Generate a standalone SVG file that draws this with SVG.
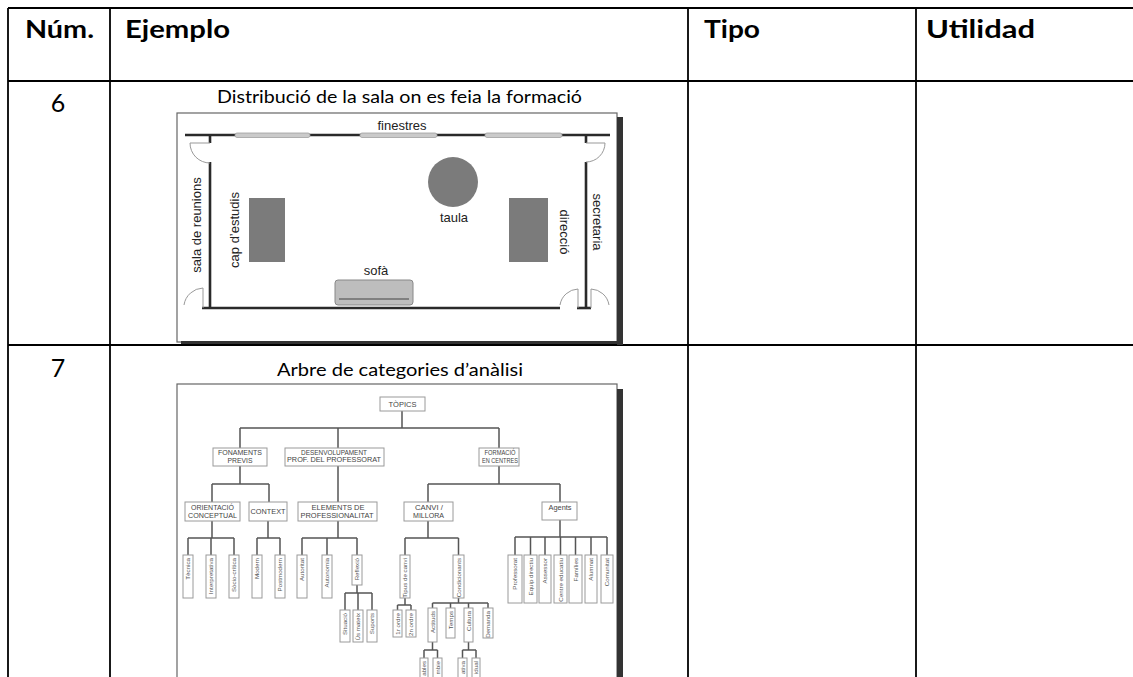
<svg xmlns="http://www.w3.org/2000/svg" width="1133" height="677" viewBox="0 0 1133 677">
<style>
.tl{stroke:#000;stroke-width:1.8;fill:none}
.hd{font-family:"Lato","Liberation Sans",sans-serif;font-weight:bold;font-size:25px;fill:#000}
.num{font-family:"Lato","Liberation Sans",sans-serif;font-size:25px;fill:#000}
.cap{font-family:"Lato","Liberation Sans",sans-serif;font-size:17px;fill:#000}
.pl{font-family:"Liberation Sans","DejaVu Sans",sans-serif;font-size:13px;fill:#222}
.wall{stroke:#2a2a2a;stroke-width:2.6;fill:none}
.door{stroke:#999;stroke-width:1;fill:none}
.win{fill:#cacaca;stroke:#a0a0a0;stroke-width:0.8}
.furn{fill:#7b7b7b}
.frame{fill:#fff;stroke:#666;stroke-width:1.2}
.shadow{fill:#333}
.bx{fill:#fff;stroke:#9a9a9a;stroke-width:1}
.cn{stroke:#555;stroke-width:1.5;fill:none}
.nt{font-family:"Liberation Sans",sans-serif;font-size:7px;fill:#444;text-anchor:middle}
.lt{font-family:"Liberation Sans",sans-serif;font-size:6.2px;fill:#555;text-anchor:end}
</style>

<g id="table">
<line class="tl" x1="8" y1="8" x2="1133" y2="8"/>
<line class="tl" x1="8" y1="81" x2="1133" y2="81"/>
<line class="tl" x1="8" y1="345" x2="1133" y2="345"/>
<line class="tl" x1="8" y1="8" x2="8" y2="677"/>
<line class="tl" x1="110" y1="8" x2="110" y2="677"/>
<line class="tl" x1="688" y1="8" x2="688" y2="677"/>
<line class="tl" x1="916" y1="8" x2="916" y2="677"/>
<text class="hd" x="25" y="38" textLength="69" lengthAdjust="spacingAndGlyphs">Núm.</text>
<text class="hd" x="125" y="38" textLength="105" lengthAdjust="spacingAndGlyphs">Ejemplo</text>
<text class="hd" x="704" y="38" textLength="56" lengthAdjust="spacingAndGlyphs">Tipo</text>
<text class="hd" x="926" y="38" textLength="109" lengthAdjust="spacingAndGlyphs">Utilidad</text>
<text class="num" x="58" y="112" text-anchor="middle">6</text>
<text class="num" x="58" y="377" text-anchor="middle">7</text>
<text class="cap" x="217" y="103" textLength="365" lengthAdjust="spacingAndGlyphs">Distribució de la sala on es feia la formació</text>
<text class="cap" x="277" y="376" textLength="246" lengthAdjust="spacingAndGlyphs">Arbre de categories d’anàlisi</text>
</g>

<g id="floorplan">
<rect class="frame" x="177" y="113" width="440" height="229"/>
<rect class="shadow" x="617" y="117" width="6" height="228"/>
<rect class="shadow" x="181" y="341" width="442" height="3"/>
<line class="wall" x1="185" y1="135" x2="610" y2="135"/>
<rect class="win" x="235" y="133" width="75" height="4.5" rx="2"/>
<rect class="win" x="360" y="133" width="77" height="4.5" rx="2"/>
<rect class="win" x="485" y="133" width="77" height="4.5" rx="2"/>
<line class="wall" x1="210" y1="134" x2="210" y2="143"/>
<line class="wall" x1="210" y1="162" x2="210" y2="309"/>
<line class="wall" x1="202" y1="308" x2="560" y2="308"/>
<line class="wall" x1="586" y1="134" x2="586" y2="143"/>
<line class="wall" x1="586" y1="162" x2="586" y2="309"/>
<line class="wall" x1="577" y1="308" x2="591" y2="308"/>
<line class="door" x1="190" y1="143" x2="210" y2="143"/>
<path class="door" d="M190,143 A20,20 0 0 0 210,163"/>
<line class="door" x1="203" y1="288" x2="203" y2="308"/>
<path class="door" d="M203,288 A20,20 0 0 0 184,305"/>
<line class="door" x1="586" y1="143" x2="605" y2="143"/>
<path class="door" d="M605,143 A19,19 0 0 1 586,162"/>
<line class="door" x1="578" y1="289" x2="578" y2="308"/>
<path class="door" d="M578,289 A19,19 0 0 0 560,305"/>
<line class="door" x1="591" y1="289" x2="591" y2="308"/>
<path class="door" d="M591,289 A19,19 0 0 1 609,305"/>
<rect class="furn" x="249" y="198" width="36" height="64"/>
<rect class="furn" x="509" y="198" width="39" height="64"/>
<circle class="furn" cx="453" cy="182" r="25"/>
<rect x="335" y="280" width="78" height="25" rx="3" fill="#bdbdbd" stroke="#888" stroke-width="1"/>
<line x1="339" y1="299" x2="409" y2="299" stroke="#444" stroke-width="1.2"/>
<text class="pl" x="402" y="130" text-anchor="middle">finestres</text>
<text class="pl" x="454" y="222" text-anchor="middle">taula</text>
<text class="pl" x="376" y="275" text-anchor="middle">sofà</text>
<text class="pl" text-anchor="middle" transform="translate(201,225) rotate(-90)">sala de reunions</text>
<text class="pl" text-anchor="middle" transform="translate(239,230) rotate(-90)">cap d’estudis</text>
<text class="pl" text-anchor="middle" transform="translate(560,232) rotate(90)">direcció</text>
<text class="pl" text-anchor="middle" transform="translate(593,222) rotate(90)">secretaria</text>
</g>

<g id="tree-frame">
<rect class="frame" x="177" y="384" width="440" height="300"/>
<rect class="shadow" x="617" y="389" width="6" height="290"/>
</g>

<g id="connectors">
<path class="cn" d="M402,411 V428 M240,428 H499 M240,428 V448 M338,428 V448 M499,428 V448"/>
<path class="cn" d="M240,466 V484 M212,484 H269 M212,484 V502 M269,484 V502"/>
<path class="cn" d="M338,466 V502"/>
<path class="cn" d="M499,466 V484 M428,484 H560 M428,484 V502 M560,484 V502"/>
<path class="cn" d="M212,521 V538 M188,538 H234 M188,538 V555 M211,538 V555 M234,538 V555"/>
<path class="cn" d="M268,521 V538 M257,538 H280 M257,538 V555 M280,538 V555"/>
<path class="cn" d="M338,521 V538 M302,538 H357 M302,538 V555 M327,538 V555 M357,538 V555"/>
<path class="cn" d="M357,585 V593 M345,593 H372 M345,593 V610 M358,593 V610 M372,593 V610"/>
<path class="cn" d="M428,521 V538 M405,538 H458.5 M405,538 V555 M458.5,538 V555"/>
<path class="cn" d="M405,598 V605 M397.5,605 H411 M397.5,605 V610 M411,605 V610"/>
<path class="cn" d="M458.5,598 V603 M432.5,603 H488 M432.5,603 V608 M450.5,603 V608 M468.5,603 V608 M488,603 V608"/>
<path class="cn" d="M432.5,642 V650 M424,650 H437.5 M424,650 V658 M437.5,650 V658"/>
<path class="cn" d="M468.5,642 V650 M462.5,650 H476 M462.5,650 V658 M476,650 V658"/>
<path class="cn" d="M560,519 V537 M515,537 H607 M515,537 V555 M530.5,537 V555 M545,537 V555 M560.5,537 V555 M575.5,537 V555 M591,537 V555 M607,537 V555"/>
</g>

<g id="n-topics"><rect class="bx" x="380" y="397" width="45" height="14"/><text class="nt" x="402.5" y="406.5" textLength="28" lengthAdjust="spacingAndGlyphs">TÒPICS</text></g>
<g id="n-fonaments"><rect class="bx" x="213" y="448" width="54" height="18"/><text class="nt" x="240" y="455" textLength="44" lengthAdjust="spacingAndGlyphs">FONAMENTS</text><text class="nt" x="240" y="463" textLength="25" lengthAdjust="spacingAndGlyphs">PREVIS</text></g>
<g id="n-desenvolupament"><rect class="bx" x="285" y="448" width="99" height="18"/><text class="nt" x="334" y="454.5" textLength="66" lengthAdjust="spacingAndGlyphs">DESENVOLUPAMENT</text><text class="nt" x="334" y="462" textLength="94" lengthAdjust="spacingAndGlyphs">PROF. DEL PROFESSORAT</text></g>
<g id="n-formacio"><rect class="bx" x="479" y="448" width="40" height="18"/><text class="nt" x="500" y="455" textLength="31" lengthAdjust="spacingAndGlyphs">FORMACIÓ</text><text class="nt" x="500" y="463" textLength="36" lengthAdjust="spacingAndGlyphs">EN CENTRES</text></g>
<g id="n-orientacio"><rect class="bx" x="185" y="502" width="55" height="19"/><text class="nt" x="212.5" y="509.5" textLength="43" lengthAdjust="spacingAndGlyphs">ORIENTACIÓ</text><text class="nt" x="212.5" y="517.5" textLength="49" lengthAdjust="spacingAndGlyphs">CONCEPTUAL</text></g>
<g id="n-context"><rect class="bx" x="249" y="502" width="38" height="19"/><text class="nt" x="268" y="514" textLength="35" lengthAdjust="spacingAndGlyphs">CONTEXT</text></g>
<g id="n-elements"><rect class="bx" x="298" y="502" width="79" height="19"/><text class="nt" x="338" y="509.5" textLength="53" lengthAdjust="spacingAndGlyphs">ELEMENTS DE</text><text class="nt" x="337" y="517.5" textLength="73" lengthAdjust="spacingAndGlyphs">PROFESSIONALITAT</text></g>
<g id="n-canvi"><rect class="bx" x="404" y="502" width="49" height="19"/><text class="nt" x="429" y="509.5" textLength="28" lengthAdjust="spacingAndGlyphs">CANVI /</text><text class="nt" x="428.5" y="517.5" textLength="31" lengthAdjust="spacingAndGlyphs">MILLORA</text></g>
<g id="n-agents"><rect class="bx" x="542" y="502" width="35" height="18"/><text class="nt" x="560" y="510" textLength="23" lengthAdjust="spacingAndGlyphs">Agents</text></g>

<g id="n-tecnica"><rect class="bx" x="183" y="555" width="10" height="43"/><text class="lt" transform="translate(190.2,558) rotate(-90)">Tècnica</text></g>
<g id="n-interpretativa"><rect class="bx" x="206" y="555" width="10" height="43"/><text class="lt" transform="translate(213.2,558) rotate(-90)">Interpretativa</text></g>
<g id="n-sociocritica"><rect class="bx" x="229" y="555" width="10" height="43"/><text class="lt" transform="translate(236.2,558) rotate(-90)">Sòcio-crítica</text></g>
<g id="n-modern"><rect class="bx" x="252" y="555" width="10" height="43"/><text class="lt" transform="translate(259.2,558) rotate(-90)">Modern</text></g>
<g id="n-postmodern"><rect class="bx" x="275" y="555" width="10" height="43"/><text class="lt" transform="translate(282.2,558) rotate(-90)">Postmodern</text></g>
<g id="n-autoritat"><rect class="bx" x="297" y="555" width="10" height="43"/><text class="lt" transform="translate(304.2,558) rotate(-90)">Autoritat</text></g>
<g id="n-autonomia"><rect class="bx" x="322" y="555" width="10" height="43"/><text class="lt" transform="translate(329.2,558) rotate(-90)">Autonomia</text></g>
<g id="n-reflexio"><rect class="bx" x="352" y="555" width="10" height="30"/><text class="lt" transform="translate(359.2,558) rotate(-90)">Reflexió</text></g>
<g id="n-situacio"><rect class="bx" x="340" y="610" width="10" height="32"/><text class="lt" transform="translate(347.2,613) rotate(-90)">Situació</text></g>
<g id="n-usmateix"><rect class="bx" x="353" y="610" width="10" height="32"/><text class="lt" transform="translate(360.2,613) rotate(-90)">Ús mateix</text></g>
<g id="n-suports"><rect class="bx" x="367" y="610" width="10" height="32"/><text class="lt" transform="translate(374.2,613) rotate(-90)">Suports</text></g>
<g id="n-tipus"><rect class="bx" x="400" y="555" width="10" height="43"/><text class="lt" transform="translate(407.2,558) rotate(-90)">Tipus de canvi</text></g>
<g id="n-condicionants"><rect class="bx" x="453" y="555" width="11" height="43"/><text class="lt" transform="translate(460.7,558) rotate(-90)">Condicionants</text></g>
<g id="n-1rordre"><rect class="bx" x="393" y="610" width="9" height="27"/><text class="lt" transform="translate(399.7,613) rotate(-90)">1r ordre</text></g>
<g id="n-2nordre"><rect class="bx" x="406" y="610" width="10" height="27"/><text class="lt" transform="translate(413.2,613) rotate(-90)">2n ordre</text></g>
<g id="n-actituds"><rect class="bx" x="428" y="608" width="9" height="34"/><text class="lt" transform="translate(434.7,611) rotate(-90)">Actituds</text></g>
<g id="n-temps"><rect class="bx" x="446" y="608" width="9" height="30"/><text class="lt" transform="translate(452.7,611) rotate(-90)">Temps</text></g>
<g id="n-cultura"><rect class="bx" x="464" y="608" width="9" height="34"/><text class="lt" transform="translate(470.7,611) rotate(-90)">Cultura</text></g>
<g id="n-demanda"><rect class="bx" x="483" y="608" width="10" height="30"/><text class="lt" transform="translate(490.2,611) rotate(-90)">Demanda</text></g>
<g id="n-act1"><rect class="bx" x="420" y="658" width="8" height="25"/><text class="lt" transform="translate(426.2,661) rotate(-90)">ables</text></g>
<g id="n-act2"><rect class="bx" x="433" y="658" width="9" height="25"/><text class="lt" transform="translate(439.7,661) rotate(-90)">mbie</text></g>
<g id="n-cul1"><rect class="bx" x="458" y="658" width="9" height="25"/><text class="lt" transform="translate(464.7,661) rotate(-90)">ativa</text></g>
<g id="n-cul2"><rect class="bx" x="472" y="658" width="8" height="25"/><text class="lt" transform="translate(478.2,661) rotate(-90)">idual</text></g>
<g id="n-professorat"><rect class="bx" x="508" y="555" width="14" height="48"/><text class="lt" transform="translate(517.2,558) rotate(-90)">Professorat</text></g>
<g id="n-equip"><rect class="bx" x="524" y="555" width="13" height="48"/><text class="lt" transform="translate(532.7,558) rotate(-90)">Equip directiu</text></g>
<g id="n-assessor"><rect class="bx" x="539" y="555" width="12" height="48"/><text class="lt" transform="translate(547.2,558) rotate(-90)">Assessor</text></g>
<g id="n-centre"><rect class="bx" x="554" y="555" width="13" height="48"/><text class="lt" transform="translate(562.7,558) rotate(-90)">Centre educatiu</text></g>
<g id="n-families"><rect class="bx" x="569" y="555" width="13" height="48"/><text class="lt" transform="translate(577.7,558) rotate(-90)">Famílies</text></g>
<g id="n-alumnat"><rect class="bx" x="585" y="555" width="12" height="48"/><text class="lt" transform="translate(593.2,558) rotate(-90)">Alumnat</text></g>
<g id="n-comunitat"><rect class="bx" x="601" y="555" width="12" height="48"/><text class="lt" transform="translate(609.2,558) rotate(-90)">Comunitat</text></g>
</svg>
